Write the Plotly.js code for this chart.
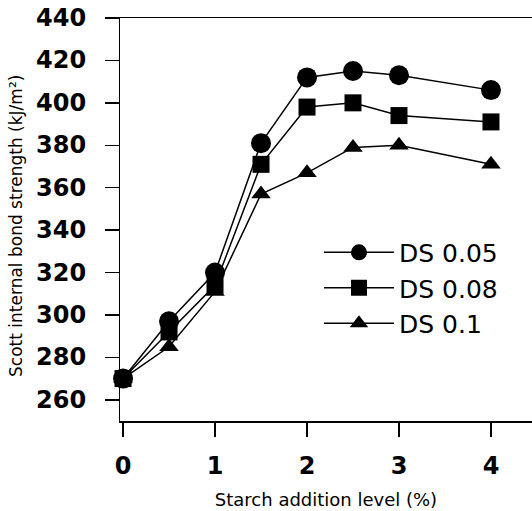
<!DOCTYPE html>
<html>
<head>
<meta charset="utf-8">
<script src="https://cdn.plot.ly/plotly-3.0.1.min.js"></script>
<style>html,body{margin:0;padding:0;background:#fff;}#chart{width:532px;height:511px;}</style>
</head>
<body>
<div id="chart"></div>
<script>
const starchLevel = [0, 0.5, 1, 1.5, 2, 2.5, 3, 4];
const ds005 = [270, 297, 320, 381, 412, 415, 413, 406];
const ds008 = [270, 292, 314, 371, 398, 400, 394, 391];
const ds01  = [270, 285, 311, 357, 367, 379, 380, 371];
const seriesNames = ['DS 0.05', 'DS 0.08', 'DS 0.1'];
const xTicks = [0, 1, 2, 3, 4];
const yTicks = [260, 280, 300, 320, 340, 360, 380, 400, 420, 440];
const yTitle = 'Scott internal bond strength (kJ/m²)';
const xTitle = 'Starch addition level (%)';

const common = {mode: 'lines+markers', line: {color: '#000', width: 1.5}, cliponaxis: false};
const traces = [
  Object.assign({}, common, {x: starchLevel, y: ds005, name: seriesNames[0], marker: {symbol: 'circle', size: 20, color: '#000'}}),
  Object.assign({}, common, {x: starchLevel, y: ds008, name: seriesNames[1], marker: {symbol: 'square', size: 17, color: '#000'}}),
  Object.assign({}, common, {x: starchLevel, y: ds01, name: seriesNames[2], marker: {symbol: 'triangle-up', size: 17, color: '#000'}})
];

const plotW = 412;
const tickFont = {family: 'DejaVu Sans', size: 24, color: '#000', weight: 'bold'};
const yLabelAnnotations = yTicks.map(v => ({
  xref: 'paper', yref: 'y', x: -32 / plotW, y: v, text: String(v),
  xanchor: 'right', yanchor: 'middle', showarrow: false, font: tickFont
}));
const yTitleAnnotation = {
  xref: 'paper', yref: 'paper', x: -104 / plotW, y: 0.484, text: yTitle, textangle: -90,
  xanchor: 'center', yanchor: 'middle', showarrow: false,
  font: {family: 'DejaVu Sans', size: 17, color: '#000'}
};

const layout = {
  width: 532, height: 511,
  margin: {l: 120, r: 0, t: 18, b: 90},
  paper_bgcolor: '#fff', plot_bgcolor: '#fff',
  showlegend: true,
  legend: {x: 0.483, y: 0.475, xanchor: 'left', yanchor: 'top', bgcolor: 'rgba(0,0,0,0)',
           font: {family: 'DejaVu Sans', size: 25, color: '#000'}, itemwidth: 70, tracegroupgap: 0},
  annotations: yLabelAnnotations.concat([yTitleAnnotation]),
  xaxis: {
    range: [-0.033, 4.446], tickvals: xTicks, ticktext: xTicks.map(String),
    showgrid: false, zeroline: false, showline: true, linecolor: '#000', linewidth: 1.5, mirror: true,
    ticks: 'outside', ticklen: 14, tickwidth: 1.5, tickcolor: '#000', ticklabelstandoff: 9,
    tickfont: tickFont,
    title: {text: xTitle, font: {family: 'DejaVu Sans', size: 18, color: '#000'}, standoff: 14}
  },
  yaxis: {
    range: [250, 440], tickvals: yTicks, showticklabels: false,
    showgrid: false, zeroline: false, showline: true, linecolor: '#000', linewidth: 1.5,
    ticks: 'outside', ticklen: 14, tickwidth: 1.5, tickcolor: '#000'
  }
};

Plotly.newPlot('chart', traces, layout, {displayModeBar: false, staticPlot: true});
</script>
</body>
</html>
